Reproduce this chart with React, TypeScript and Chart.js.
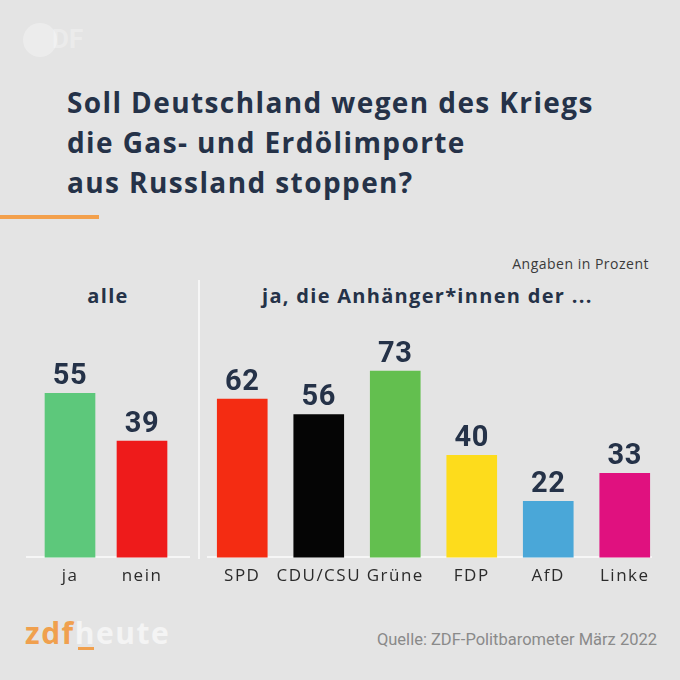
import React, { useEffect, useRef } from "react";
import { Chart, registerables } from "chart.js";

Chart.register(...registerables);

// ---- data ----
const titleLines = ["Soll Deutschland wegen des Kriegs", "die Gas- und Erdölimporte", "aus Russland stoppen?"];
const allHeading = "alle";
const partyHeading = "ja, die Anhänger*innen der ...";
const unitNote = "Angaben in Prozent";
const sourceNote = "Quelle: ZDF-Politbarometer März 2022";

const allCategories = ["ja", "nein"];
const allValues = [55, 39];
const allColors = ["#5dc87b", "#ee1b1b"];

const partyCategories = ["SPD", "CDU/CSU", "Grüne", "FDP", "AfD", "Linke"];
const partyValues = [62, 56, 73, 40, 22, 33];
const partyColors = ["#f42c12", "#050505", "#63bf4f", "#fddc1c", "#4aa7d8", "#e0117f"];

const NAVY = "#253248";
const BG = "#e4e4e4";

const tickSpacing = {
  id: "tickSpacing",
  beforeDraw(chart: any) {
    chart.ctx.letterSpacing = "1.5px";
  },
  afterDraw(chart: any) {
    chart.ctx.letterSpacing = "0px";
  },
};

const valueLabels = {
  id: "valueLabels",
  afterDatasetsDraw(chart: any) {
    const ctx = chart.ctx;
    ctx.save();
    ctx.letterSpacing = "0.5px";
    ctx.font = "bold 29px Roboto";
    ctx.fillStyle = NAVY;
    ctx.textAlign = "center";
    ctx.textBaseline = "alphabetic";
    const meta = chart.getDatasetMeta(0);
    meta.data.forEach((bar: any, i: number) => {
      ctx.fillText(String(chart.data.datasets[0].data[i]), bar.x, bar.y - 9);
    });
    ctx.restore();
  },
};

function BarChart(props: {
  labels: string[];
  values: number[];
  colors: string[];
  left: number;
  top: number;
  width: number;
  height: number;
}) {
  const ref = useRef<HTMLCanvasElement>(null);
  useEffect(() => {
    const chart = new Chart(ref.current as HTMLCanvasElement, {
      type: "bar",
      data: {
        labels: props.labels,
        datasets: [
          {
            data: props.values,
            backgroundColor: props.colors,
            barThickness: 50,
            borderWidth: 0,
          },
        ],
      },
      options: {
        responsive: false,
        animation: false,
        layout: { padding: 0 },
        plugins: { legend: { display: false }, tooltip: { enabled: false } },
        scales: {
          x: {
            grid: { display: false, drawTicks: false },
            border: { display: false },
            ticks: {
              color: "#2b2b2b",
              font: { family: "'Open Sans'", size: 17 },
              padding: 8,
              maxRotation: 0,
              autoSkip: false,
            },
          },
          y: { display: false, min: 0, max: 100 },
        },
      },
      plugins: [tickSpacing, valueLabels],
    } as any);
    return () => chart.destroy();
  }, []);
  return (
    <canvas
      ref={ref}
      width={props.width}
      height={props.height}
      style={{ position: "absolute", left: props.left, top: props.top, width: props.width, height: props.height }}
    />
  );
}

export default function App() {
  const abs = (s: React.CSSProperties): React.CSSProperties => ({ position: "absolute", ...s });
  return (
    <div
      style={{
        position: "fixed",
        left: 0,
        top: 0,
        width: 680,
        height: 680,
        background: BG,
        overflow: "hidden",
        fontFamily: "'Open Sans', sans-serif",
      }}
    >
      {/* faint watermark */}
      <div style={abs({ left: 23, top: 23, width: 34, height: 34, borderRadius: 17, background: "rgba(255,255,255,0.3)" })} />
      <div style={abs({ left: 52, top: 24, font: "bold 26px Roboto", color: "rgba(255,255,255,0.3)" })}>DF</div>

      {/* title */}
      <div
        style={abs({
          left: 67,
          top: 82,
          font: "bold 28px 'Open Sans'",
          letterSpacing: "1.4px",
          lineHeight: "40px",
          color: NAVY,
          whiteSpace: "nowrap",
        })}
      >
        {titleLines.map((l, i) => (
          <div key={i}>{l}</div>
        ))}
      </div>
      <div style={abs({ left: 0, top: 215, width: 99, height: 4, background: "#f3a04c" })} />

      {/* headings */}
      <div style={abs({ right: 31, top: 254, font: "14px 'Open Sans'", letterSpacing: "0.5px", color: "#3a3a3a", whiteSpace: "nowrap" })}>
        {unitNote}
      </div>
      <div
        style={abs({ left: 58, width: 100, top: 282, textAlign: "center", font: "bold 20px 'Open Sans'", letterSpacing: "1.3px", color: NAVY })}
      >
        {allHeading}
      </div>
      <div style={abs({ left: 262, top: 282, font: "bold 20px 'Open Sans'", letterSpacing: "1.3px", color: NAVY, whiteSpace: "nowrap" })}>
        {partyHeading}
      </div>

      {/* separators & baselines */}
      <div style={abs({ left: 198, top: 280, width: 2, height: 279, background: "#f6f6f6" })} />
      <div style={abs({ left: 26, top: 556, width: 164, height: 2, background: "#f6f6f6" })} />
      <div style={abs({ left: 207, top: 556, width: 445, height: 2, background: "#f6f6f6" })} />

      <BarChart labels={allCategories} values={allValues} colors={allColors} left={34} top={259} width={144} height={335} />
      <BarChart labels={partyCategories} values={partyValues} colors={partyColors} left={204} top={302} width={459} height={292} />

      {/* footer */}
      <div style={abs({ left: 25, top: 612, font: "bold 30px 'Open Sans'", letterSpacing: "1.5px", whiteSpace: "nowrap" })}>
        <span style={{ color: "#f0a04e" }}>zdf</span>
        <span style={{ color: "#f4f4f4" }}>heute</span>
      </div>
      <div style={abs({ left: 78, top: 647, width: 16, height: 3, background: "#f0a04e" })} />
      <div style={abs({ right: 23, top: 630, font: "16.5px Roboto", color: "#8a8a8a", whiteSpace: "nowrap" })}>{sourceNote}</div>
    </div>
  );
}
